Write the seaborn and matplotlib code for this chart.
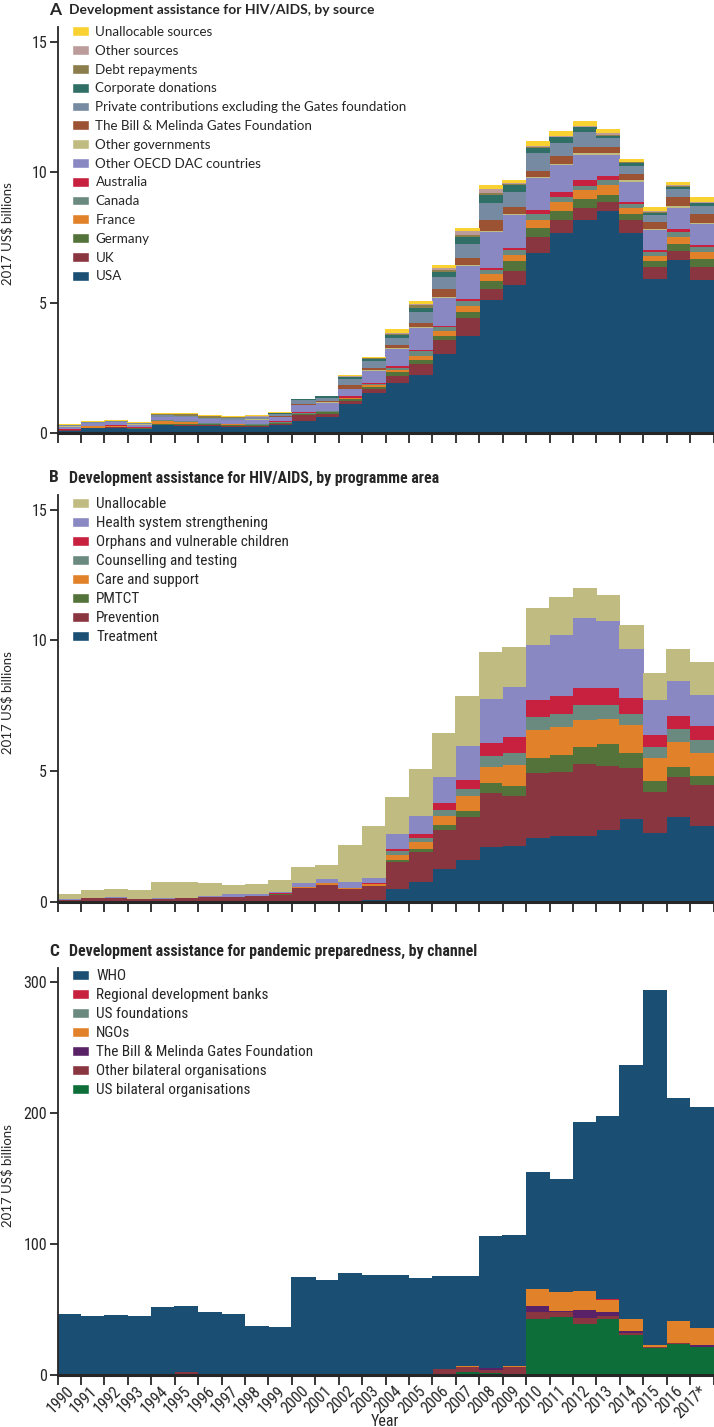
import numpy as np
import pandas as pd
import seaborn as sns
import matplotlib.pyplot as plt
from matplotlib import font_manager as fm
from matplotlib.patches import Patch

# Years on the x axis
years = list(range(1990, 2018))
year_labels = [str(y) for y in range(1990, 2017)] + ['2017*']

# Panel A: HIV/AIDS by source (2017 US$ billions)
usa = [0.08, 0.18, 0.20, 0.15, 0.29, 0.28, 0.27, 0.23, 0.22, 0.31, 0.46, 0.63, 1.13, 1.53, 1.90, 2.21, 3.04, 3.72, 5.08, 5.69, 6.91, 7.68, 8.16, 8.49, 7.65, 5.89, 6.63, 5.87]
uk = [0.02, 0.02, 0.02, 0.02, 0.02, 0.02, 0.03, 0.03, 0.05, 0.05, 0.22, 0.10, 0.10, 0.15, 0.28, 0.45, 0.51, 0.69, 0.43, 0.53, 0.59, 0.47, 0.48, 0.36, 0.52, 0.48, 0.34, 0.51]
germany = [0.01, 0.01, 0.01, 0.01, 0.03, 0.06, 0.04, 0.04, 0.03, 0.02, 0.03, 0.06, 0.06, 0.08, 0.15, 0.15, 0.18, 0.23, 0.33, 0.36, 0.36, 0.36, 0.32, 0.29, 0.22, 0.23, 0.29, 0.29]
france = [0.01, 0.05, 0.04, 0.02, 0.12, 0.08, 0.02, 0.03, 0.02, 0.02, 0.02, 0.03, 0.04, 0.07, 0.10, 0.13, 0.17, 0.23, 0.24, 0.23, 0.32, 0.34, 0.34, 0.37, 0.24, 0.20, 0.27, 0.28]
canada = [0.01, 0.01, 0.01, 0.01, 0.02, 0.02, 0.02, 0.02, 0.02, 0.02, 0.03, 0.02, 0.02, 0.04, 0.08, 0.19, 0.15, 0.18, 0.17, 0.19, 0.22, 0.19, 0.18, 0.18, 0.13, 0.13, 0.17, 0.17]
australia = [0.01, 0.01, 0.01, 0.01, 0.01, 0.01, 0.01, 0.01, 0.01, 0.04, 0.04, 0.02, 0.05, 0.04, 0.05, 0.06, 0.06, 0.08, 0.09, 0.09, 0.13, 0.19, 0.20, 0.17, 0.11, 0.09, 0.10, 0.10]
other_dac = [0.10, 0.10, 0.12, 0.10, 0.12, 0.13, 0.13, 0.14, 0.16, 0.15, 0.28, 0.30, 0.28, 0.47, 0.66, 0.83, 1.07, 1.26, 1.35, 1.25, 1.23, 1.04, 0.99, 0.81, 0.76, 0.76, 0.84, 0.78]
other_gov = [0.01, 0.01, 0.01, 0.01, 0.01, 0.01, 0.01, 0.01, 0.01, 0.02, 0.01, 0.01, 0.02, 0.02, 0.03, 0.04, 0.05, 0.05, 0.05, 0.06, 0.04, 0.04, 0.05, 0.06, 0.05, 0.05, 0.06, 0.05]
gates = [0, 0, 0, 0, 0, 0, 0, 0, 0.01, 0.01, 0.04, 0.04, 0.14, 0.11, 0.13, 0.17, 0.27, 0.27, 0.42, 0.28, 0.25, 0.29, 0.25, 0.25, 0.23, 0.24, 0.34, 0.34]
private = [0.04, 0.03, 0.03, 0.04, 0.06, 0.06, 0.06, 0.06, 0.08, 0.10, 0.14, 0.14, 0.22, 0.25, 0.25, 0.39, 0.47, 0.53, 0.64, 0.57, 0.67, 0.50, 0.55, 0.31, 0.33, 0.28, 0.31, 0.32]
corporate = [0, 0, 0, 0, 0, 0, 0, 0, 0, 0.01, 0.03, 0.05, 0.10, 0.09, 0.11, 0.18, 0.19, 0.27, 0.33, 0.25, 0.22, 0.23, 0.19, 0.11, 0.11, 0.10, 0.09, 0.10]
debt = [0, 0.01, 0.01, 0.01, 0.04, 0.05, 0.06, 0.03, 0.02, 0.01, 0, 0, 0, 0.01, 0.06, 0.10, 0.08, 0.08, 0.06, 0.05, 0.03, 0.02, 0.02, 0.04, 0.02, 0.02, 0.02, 0.02]
other_src = [0.01, 0.01, 0.01, 0.01, 0.01, 0.01, 0.01, 0.01, 0.01, 0.01, 0, 0, 0.01, 0.02, 0.04, 0.05, 0.08, 0.14, 0.15, 0.05, 0.04, 0.02, 0.02, 0.05, 0.02, 0.03, 0.03, 0.02]
unalloc_src = [0.03, 0.03, 0.03, 0.03, 0.02, 0.02, 0.03, 0.03, 0.04, 0.03, 0.02, 0.03, 0.04, 0.05, 0.13, 0.09, 0.10, 0.11, 0.17, 0.11, 0.19, 0.22, 0.19, 0.17, 0.13, 0.18, 0.13, 0.20]

# Panel B: HIV/AIDS by programme area
treatment = [0, 0, 0, 0, 0, 0, 0, 0, 0, 0.01, 0.02, 0.03, 0.04, 0.06, 0.48, 0.78, 1.25, 1.62, 2.10, 2.15, 2.46, 2.52, 2.54, 2.74, 3.18, 2.62, 3.24, 2.91]
prevention = [0.08, 0.16, 0.15, 0.10, 0.13, 0.14, 0.18, 0.21, 0.23, 0.27, 0.50, 0.62, 0.44, 0.55, 1.06, 1.13, 1.50, 1.63, 2.07, 1.90, 2.46, 2.46, 2.72, 2.46, 1.96, 1.58, 1.53, 1.55]
pmtct = [0, 0, 0, 0, 0, 0, 0, 0, 0, 0.01, 0.01, 0.01, 0.01, 0.01, 0.08, 0.13, 0.18, 0.23, 0.37, 0.38, 0.60, 0.64, 0.65, 0.84, 0.57, 0.42, 0.38, 0.34]
care = [0, 0, 0, 0, 0, 0, 0, 0, 0.01, 0.02, 0.03, 0.05, 0.03, 0.05, 0.18, 0.24, 0.37, 0.57, 0.61, 0.81, 1.04, 1.06, 1.03, 0.94, 1.04, 0.88, 0.97, 0.90]
counselling = [0, 0, 0, 0, 0, 0, 0, 0, 0, 0.01, 0.01, 0.01, 0.01, 0.02, 0.15, 0.18, 0.23, 0.28, 0.43, 0.46, 0.50, 0.51, 0.60, 0.55, 0.45, 0.42, 0.48, 0.51]
ovc = [0, 0, 0, 0, 0, 0, 0, 0, 0, 0.01, 0.01, 0.02, 0.02, 0.03, 0.09, 0.13, 0.25, 0.34, 0.50, 0.61, 0.65, 0.69, 0.65, 0.64, 0.60, 0.45, 0.53, 0.50]
hss = [0.02, 0.01, 0.03, 0.02, 0.02, 0.03, 0.06, 0.08, 0.07, 0.07, 0.16, 0.13, 0.23, 0.19, 0.55, 0.71, 0.99, 1.31, 1.68, 1.90, 2.12, 2.34, 2.65, 2.56, 1.86, 1.37, 1.30, 1.22]
unalloc_prog = [0.22, 0.28, 0.33, 0.32, 0.63, 0.58, 0.48, 0.36, 0.36, 0.43, 0.59, 0.56, 1.40, 2.00, 1.44, 1.78, 1.69, 1.90, 1.78, 1.55, 1.40, 1.45, 1.17, 1.01, 0.94, 1.00, 1.25, 1.25]

# Panel C: pandemic preparedness by channel
who = [46.0, 44.2, 45.2, 44.6, 51.4, 50.4, 47.3, 46.4, 37.0, 35.9, 74.0, 72.6, 77.4, 75.9, 75.7, 73.4, 71.1, 69.0, 100.5, 100.0, 88.7, 86.4, 129.2, 140.0, 193.6, 271.0, 170.2, 168.6]
regional_banks = [0, 0, 0, 0, 0, 0, 0, 0, 0, 0, 0, 0, 0, 0, 0, 0, 0, 0, 0, 0, 0.2, 0.2, 0.2, 0.2, 0, 0, 0, 0]
us_foundations = [0, 0, 0, 0, 0, 0, 0, 0, 0, 0, 0, 0, 0, 0, 0, 0, 0, 0, 0, 0, 0.2, 0.2, 0.2, 0.2, 0, 0, 0, 0]
ngos = [0, 0, 0, 0, 0, 0, 0, 0, 0, 0, 0, 0, 0, 0, 0, 0, 0, 0.2, 0.5, 1.0, 12.7, 14.0, 14.2, 9.2, 9.2, 1.8, 16.3, 13.5]
gates_c = [0, 0, 0, 0, 0, 0, 0, 0, 0, 0, 0, 0, 0, 0, 0, 0, 0, 0, 1.5, 0.3, 4.8, 0.8, 6.1, 3.1, 1.8, 0, 0.3, 1.0]
other_bilateral = [0.8, 0.6, 0.3, 0.2, 0.3, 2.3, 0.8, 0.2, 0.2, 0.5, 0.8, 0.2, 0.2, 0.2, 0.4, 0.4, 3.5, 4.1, 1.8, 5.3, 5.1, 4.3, 4.6, 2.3, 1.0, 0.5, 1.0, 0.5]
us_bilateral = [0, 0, 0, 0, 0, 0, 0, 0, 0, 0, 0, 0, 0, 0, 0, 0, 1.0, 2.3, 1.8, 0.5, 43.0, 44.0, 38.9, 42.7, 30.8, 20.6, 23.4, 21.1]

# Series in legend order (top of stack first)
series_a = {
    'Unallocable sources': unalloc_src,
    'Other sources': other_src,
    'Debt repayments': debt,
    'Corporate donations': corporate,
    'Private contributions excluding the Gates foundation': private,
    'The Bill & Melinda Gates Foundation': gates,
    'Other governments': other_gov,
    'Other OECD DAC countries': other_dac,
    'Australia': australia,
    'Canada': canada,
    'France': france,
    'Germany': germany,
    'UK': uk,
    'USA': usa,
}
colors_a = ['#F9D232', '#BC9B9B', '#8C7D4C', '#2F6F66', '#768BA2', '#9B5333', '#C0BB80',
            '#8A88C2', '#C8203F', '#6A8A80', '#E1822A', '#53733A', '#8A3641', '#1A4E72']

series_b = {
    'Unallocable': unalloc_prog,
    'Health system strengthening': hss,
    'Orphans and vulnerable children': ovc,
    'Counselling and testing': counselling,
    'Care and support': care,
    'PMTCT': pmtct,
    'Prevention': prevention,
    'Treatment': treatment,
}
colors_b = ['#C0BB80', '#8A88C2', '#C8203F', '#6A8A80', '#E1822A', '#53733A', '#8A3641', '#1A4E72']

series_c = {
    'WHO': who,
    'Regional development banks': regional_banks,
    'US foundations': us_foundations,
    'NGOs': ngos,
    'The Bill & Melinda Gates Foundation': gates_c,
    'Other bilateral organisations': other_bilateral,
    'US bilateral organisations': us_bilateral,
}
colors_c = ['#1A4E72', '#C8203F', '#6A8A80', '#E1822A', '#5A2266', '#8A3641', '#0E6E3A']

sns.set_style('ticks')
plt.rcParams['font.family'] = ['Lato', 'DejaVu Sans']


# look for an installed condensed sans (the journal style uses a narrow face)
def find_narrow(bold):
    prefs = ['Liberation Sans Narrow', 'Roboto Condensed', 'Open Sans Condensed', 'Noto Sans',
             'DejaVu Sans', 'Open Sans', 'Roboto']
    found = []
    for f in fm.fontManager.ttflist:
        narrowish = ('Narrow' in f.name or 'Condensed' in f.name
                     or str(f.stretch) in ('condensed', 'semi-condensed', 'extra-condensed'))
        if not narrowish or f.style != 'normal':
            continue
        w = f.weight if isinstance(f.weight, int) else fm.weight_dict.get(f.weight, 400)
        if bold != (w >= 600) or (bold and w > 750) or (not bold and w < 350):
            continue
        rank = next((i for i, p in enumerate(prefs) if f.name.startswith(p)), 99)
        found.append((rank, str(f.stretch) != 'condensed', f.fname))
    found.sort()
    return found[0][2] if found else None


narrow_reg = find_narrow(False)
narrow_bold = find_narrow(True)


def nfont(size, bold=False):
    path = narrow_bold if bold else narrow_reg
    if path:
        return fm.FontProperties(fname=path, size=size)
    return fm.FontProperties(family='Lato', size=size, weight='bold' if bold else 'normal')


def lfont(size, bold=False):
    return fm.FontProperties(family=['Lato', 'DejaVu Sans'], size=size,
                             weight='bold' if bold else 'normal')


W, H = 714, 1427
fig = plt.figure(figsize=(W / 100, H / 100), dpi=100)


def make_panel(top, bottom, series, colors, ymax, yticks, letter, title, title_fp,
               leg_top, leg_fp, leg_spacing, xlabels=False):
    ax = fig.add_axes([57.5 / W, 1 - bottom / H, 656 / W, (bottom - top) / H])
    df = pd.DataFrame([(y, name, v) for name, vals in series.items() for y, v in zip(years, vals)],
                      columns=['year', 'source', 'value'])
    order = list(series.keys())
    pal = dict(zip(order, colors))
    sns.histplot(data=df, x='year', weights='value', hue='source', hue_order=order, palette=pal,
                 multiple='stack', discrete=True, shrink=1, alpha=1, linewidth=0,
                 legend=False, ax=ax)
    # let neighbouring columns overlap a hair so no white seam shows between them
    for p in ax.patches:
        p.set_antialiased(False)
        p.set_linewidth(0)
        p.set_x(p.get_x() - 0.015)
        p.set_width(p.get_width() + 0.03)
    ax.set_xlim(1989.5, 2017.5)
    ax.set_ylim(0, ymax)
    sns.despine(ax=ax)
    ax.spines['left'].set_linewidth(1.3)
    ax.spines['bottom'].set_linewidth(2.2)
    ax.set_yticks(yticks)
    ax.set_yticklabels([str(t) for t in yticks])
    for lab in ax.get_yticklabels():
        lab.set_fontproperties(nfont(11.5))
    ax.set_xticks(np.arange(1989.5, 2018, 1))
    ax.set_xticklabels([])
    ax.tick_params(axis='y', length=6, width=1.3, pad=1.5)
    ax.tick_params(axis='x', which='major', length=7, width=1.3)
    ax.set_xlabel('')
    ax.set_ylabel('')
    if xlabels:
        ax.set_xticks(np.array(years) + 0.33, labels=year_labels, minor=True)
        ax.tick_params(axis='x', which='minor', length=0, pad=6)
        for lab in ax.get_xticklabels(minor=True):
            lab.set_fontproperties(nfont(11.5))
            lab.set_rotation(45)
            lab.set_ha('right')
        fig.text(385 / W, 1 - 1421 / H, 'Year', ha='center', va='center', fontproperties=nfont(11.5))
    # panel letter and title
    title_y = 1 - (top - 17) / H
    fig.text(49 / W, title_y, letter, va='center', fontproperties=title_fp(12.5, True))
    fig.text(69 / W, title_y, title, va='center', fontproperties=title_fp(title_size[letter], True))
    fig.text(7 / W, 1 - (top + bottom + 8) / 2 / H, '2017 US$ billions', rotation=90,
             ha='center', va='center', fontproperties=lfont(9.5))
    handles = [Patch(facecolor=pal[k], label=k) for k in order]
    fp = leg_fp
    px = fp.get_size_in_points() * 1.389
    fig.legend(handles=handles, loc='upper left', bbox_to_anchor=(72 / W, 1 - leg_top / H),
               frameon=False, prop=fp, handlelength=17.5 / px, handleheight=10 / px,
               handletextpad=0.45, labelspacing=leg_spacing, borderpad=0, borderaxespad=0)
    return ax


title_size = {'A': 10, 'B': 11.4, 'C': 11.4}

make_panel(27, 433, series_a, colors_a, 15.56, [0, 5, 10, 15], 'A',
           'Development assistance for HIV/AIDS, by source', lfont, 26, lfont(9.6), 0.51)
make_panel(495, 902, series_b, colors_b, 15.56, [0, 5, 10, 15], 'B',
           'Development assistance for HIV/AIDS, by programme area', nfont, 497, nfont(11), 0.33)
make_panel(968, 1375, series_c, colors_c, 310.7, [0, 100, 200, 300], 'C',
           'Development assistance for pandemic preparedness, by channel', nfont, 969, nfont(11),
           0.33, xlabels=True)

plt.savefig('out.png', dpi=100)
